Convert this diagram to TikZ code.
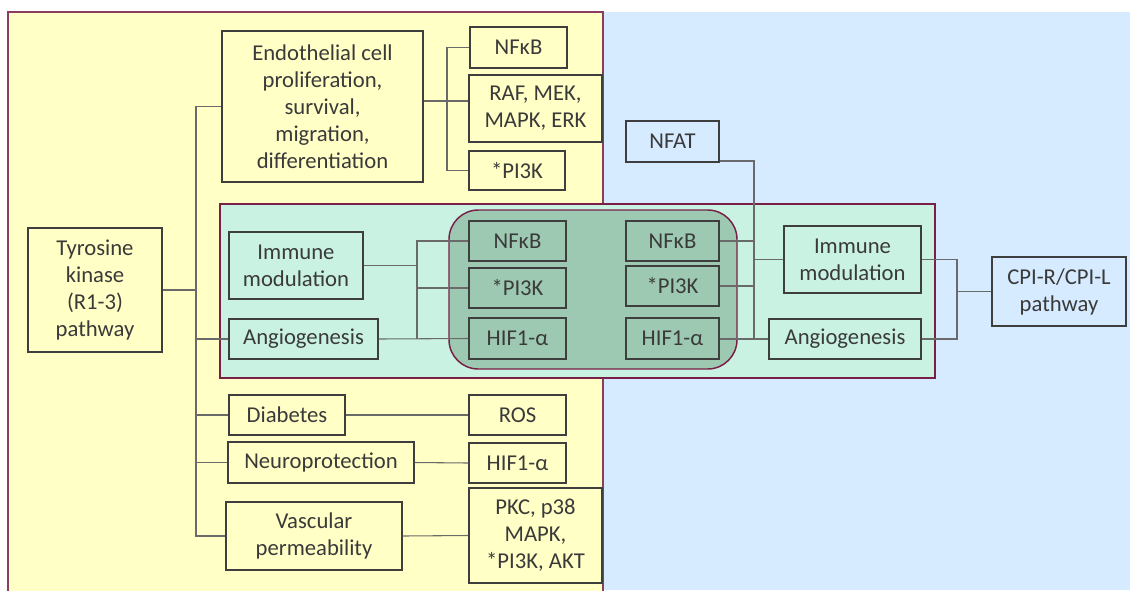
\documentclass[tikz,border=0pt]{standalone}
\usepackage{fontspec}
\setmainfont{Carlito}
\definecolor{yel}{HTML}{FFFFC6}
\definecolor{blu}{HTML}{D6EBFF}
\definecolor{tea}{HTML}{C9F2E3}
\definecolor{dgr}{HTML}{9DC9B2}
\definecolor{mar}{HTML}{7A1F45}
\definecolor{mar2}{HTML}{8A3D5E}
\definecolor{bord}{HTML}{3E3E3E}
\definecolor{txt}{HTML}{3A3A3A}
\definecolor{lin}{HTML}{6A6A6A}
\tikzset{
  box/.style={draw=bord,line width=1.1pt,inner sep=0pt,align=center,text=txt,
    font=\fontsize{17}{20.25}\selectfont},
  conn/.style={draw=lin,line width=0.8pt}
}
\newcommand\bx[7][]{\node[box,#1,minimum width={0.75pt*(#5-#3)},minimum height={0.75pt*(#6-#4)}] (#2) at ({(#3+#5)/2},{(#4+#6)/2}) {#7};}
\begin{document}
\begin{tikzpicture}[x=0.75pt,y=-0.75pt]
\useasboundingbox (0,0) rectangle (1130,590);
\fill[white] (0,0) rectangle (1130,590);
% regions
\fill[blu] (603,12) rectangle (1130,590);
\path[fill=yel,draw=mar2,line width=1.1pt] (603,592) -- (603,12) -- (8,12) -- (8,592);
\path[fill=tea,draw=mar,line width=1.1pt] (220,204) rectangle (935,378);
\path[fill=dgr,draw=mar,line width=1.1pt,rounded corners=22pt] (449,210) rectangle (737,369);
% yellow nodes
\bx[fill=yel]{tk}{28}{228}{162}{352}{Tyrosine\\kinase\\(R1-3)\\pathway}
\bx[fill=yel]{endo}{222}{31}{423}{182}{Endothelial cell\\proliferation,\\survival,\\migration,\\differentiation}
\bx[fill=yel]{nfa}{470}{27}{567}{68}{NFκB}
\bx[fill=yel]{raf}{469}{75}{602}{142}{RAF, MEK,\\MAPK, ERK}
\bx[fill=yel]{pia}{469}{151}{565}{190}{*PI3K}
\bx[fill=yel]{diab}{229}{395}{345}{435}{Diabetes}
\bx[fill=yel]{ros}{469}{395}{566}{435}{ROS}
\bx[fill=yel]{neuro}{228}{442}{414}{483}{Neuroprotection}
\bx[fill=yel]{hifb}{469}{443}{566}{483}{HIF1-α}
\bx[fill=yel]{vasc}{226}{502}{402}{570}{Vascular\\permeability}
\bx[fill=yel]{pkc}{469}{488}{602}{583}{PKC, p38\\MAPK,\\*PI3K, AKT}
% teal nodes
\bx[fill=tea]{immL}{229}{232}{363}{299}{Immune\\modulation}
\bx[fill=tea]{angL}{229}{319}{378}{359}{Angiogenesis}
\bx[fill=tea]{immR}{784}{226}{921}{293}{Immune\\modulation}
\bx[fill=tea]{angR}{769}{319}{921}{359}{Angiogenesis}
% dark nodes
\bx[fill=dgr]{nfL}{469}{221}{566}{261}{NFκB}
\bx[fill=dgr]{pL}{469}{268}{566}{308}{*PI3K}
\bx[fill=dgr]{hifL}{469}{318}{566}{359}{HIF1-α}
\bx[fill=dgr]{nfR}{626}{221}{719}{261}{NFκB}
\bx[fill=dgr]{pR}{626}{266}{719}{306}{*PI3K}
\bx[fill=dgr]{hifR}{626}{318}{719}{359}{HIF1-α}
% blue nodes
\bx[fill=blu]{nfat}{626}{121}{719}{162}{NFAT}
\bx[fill=blu]{cpi}{992}{257}{1126}{326}{CPI-R/CPI-L\\pathway}
% connectors: trunk
\coordinate (tt) at (196,106.5);
\coordinate (tb) at (196,536);
\draw[conn] (endo.west) -- (tt) -- (tb) -- (vasc.west);
\draw[conn] (tk.east) -- (tk.east-|tt);
\draw[conn] (angL.west) -- (angL.west-|tt);
\draw[conn] (diab.west) -- (diab.west-|tt);
\draw[conn] (neuro.west) -- (neuro.west-|tt);
% endothelial branches
\coordinate (eb) at (447,101);
\draw[conn] (endo.east|-eb) -- (raf.west|-eb);
\draw[conn] (nfa.west) -| (pia.west-|eb) -- (pia.west);
% lower rows
\draw[conn] (diab.east) -- (ros.west);
\draw[conn] (neuro.east) -- (hifb.west);
\draw[conn] (vasc.east) -- (pkc.west);
% left inner
\coordinate (lb) at (417,266);
\draw[conn] (immL.east) -- (immL.east-|lb);
\draw[conn] (nfL.west) -| (hifL.west-|lb);
\draw[conn] (pL.west) -- (pL.west-|lb);
\draw[conn] (angL.east) -- (hifL.west);
% right inner
\coordinate (rb1) at (754,161);
\coordinate (rb2) at (754,339);
\draw[conn] (rb1-|nfat.east) -- (rb1) -- (rb2) -- (angR.west|-rb2);
\draw[conn] (nfR.east) -- (nfR.east-|rb1);
\draw[conn] (pR.east) -- (pR.east-|rb1);
\draw[conn] (hifR.east|-rb2) -- (rb2);
\draw[conn] (immR.west) -- (immR.west-|rb1);
% right to CPI
\coordinate (cb) at (957,291.5);
\draw[conn] (immR.east) -| (cb) |- (angR.east);
\draw[conn] (cpi.west) -- (cb);
\end{tikzpicture}
\end{document}
